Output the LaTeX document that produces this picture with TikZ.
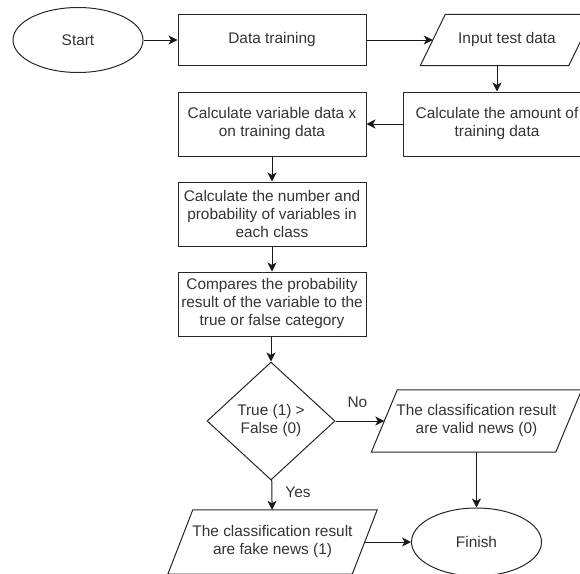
\documentclass[tikz,border=0pt]{standalone}
\usepackage{fontspec}
\setmainfont{Liberation Sans}
\usetikzlibrary{shapes.geometric,arrows.meta,calc}
\newcommand\parashape[2]{%
  \draw[line width=1pt, draw=black!85] ($(#1.south west)+(-#2,0)$) -- ($(#1.south east)+(-#2,0)$)
    -- ($(#1.north east)+(#2,0)$) -- ($(#1.north west)+(#2,0)$) -- cycle;}
\begin{document}
\begin{tikzpicture}[x=1pt,y=-1pt,
  every node/.style={font=\fontsize{15.4}{18}\selectfont, text=black!80},
  box/.style={draw=black!85, line width=1pt, minimum width=188pt, minimum height=64pt, align=center, inner sep=0pt},
  term/.style={draw=black!85, ellipse, line width=1pt, minimum width=130pt, minimum height=65pt, inner sep=0pt},
  dec/.style={draw=black!85, diamond, line width=1pt, minimum width=128pt, minimum height=118pt, inner sep=0pt, align=center},
  io/.style={align=center, inner sep=0pt},
  lbl/.style={inner sep=0pt},
  arr/.style={line width=1pt, draw=black!90, -{Stealth[length=9pt,width=9pt,inset=2.5pt]}},
]
\useasboundingbox (0,0) rectangle (580,573);
\clip (0,0) rectangle (580,573);

\node[term] (start) at (78,40) {Start};
\node[box, minimum height=51pt] (train) at (272,40) {Data training};
\node[io, minimum width=148pt, minimum height=51pt] (input) at (507,40) {Input test data};
\parashape{input}{12.5}
\node[box] (amount) at (497,124) {Calculate the amount of\\training data};
\node[box] (var) at (272,124) {Calculate variable data x\\on training data};
\node[box] (num) at (272,214) {Calculate the number and\\probability of variables in\\each class};
\node[box] (cmp) at (272,304) {Compares the probability\\result of the variable to the\\true or false category};
\node[dec] (dec) at (271,421) {True (1) >\\False (0)};
\node[io, minimum width=184pt, minimum height=62pt] (valid) at (476.5,421) {The classification result\\are valid news (0)};
\parashape{valid}{13}
\node[io, minimum width=184pt, minimum height=64pt] (fake) at (272.5,542) {The classification result\\are fake news (1)};
\parashape{fake}{12.5}
\node[term, minimum height=68pt] (finish) at (476.5,542) {Finish};

\draw[arr] (start) -- (train);
\draw[arr] (train) -- (input);
\draw[arr] (input.south -| amount.north) -- (amount.north);
\draw[arr] (amount) -- (var);
\draw[arr] (var) -- (num);
\draw[arr] (num) -- (cmp);
\draw[arr] (cmp.south -| dec.north) -- (dec.north);
\draw[arr] (dec) -- node[lbl, pos=0.45, above=13pt] {No} (valid);
\draw[arr] (dec) -- node[lbl, pos=0.4, right=13pt] {Yes} (fake);
\draw[arr] (valid) -- (finish);
\draw[arr] (fake) -- (finish);
\end{tikzpicture}
\end{document}
